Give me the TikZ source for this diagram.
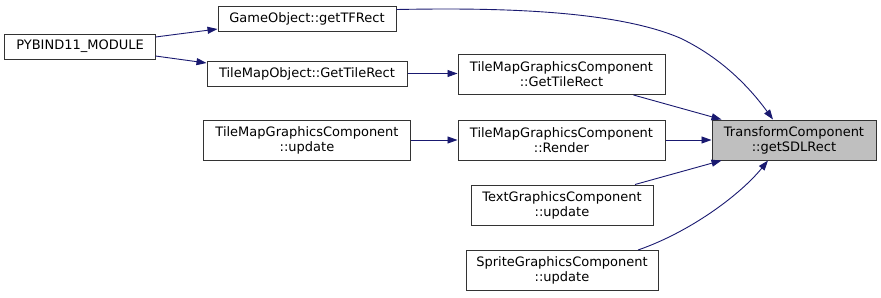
\documentclass[tikz,border=0pt]{standalone}
\usepackage{fontspec}
\setmainfont{DejaVu Sans}
\usetikzlibrary{arrows.meta}
\definecolor{edgeblue}{HTML}{191970}
\definecolor{hlfill}{HTML}{BFBFBF}
\definecolor{boxline}{HTML}{333333}
\tikzset{
  fn/.style={draw=boxline, line width=1bp, fill=white, rectangle, inner sep=0pt,
    align=center, minimum height=25bp,
    font=\fontsize{13bp}{15bp}\selectfont},
  fn2/.style={fn, minimum height=40bp},
  focus/.style={fn2, fill=hlfill},
  call/.style={draw=edgeblue, line width=0.9bp,
    -{Triangle[length=10bp,width=7bp,fill=edgeblue]}},
}
\begin{document}
\begin{tikzpicture}[x=1bp,y=-1bp]
\useasboundingbox (0,0) rectangle (881,297);

% functions
\node[fn, minimum width=150bp] (pyb) at (80,46.5) {PYBIND11\_MODULE};
\node[fn, minimum width=178bp] (go) at (307,18.5) {GameObject::getTFRect};
\node[fn, minimum width=200bp] (tmo) at (307,73.5) {TileMapObject::GetTileRect};
\node[fn2, minimum width=207bp] (tmgu) at (307,140) {TileMapGraphicsComponent\\::update};
\node[fn2, minimum width=207bp] (tmgg) at (561.5,74.5) {TileMapGraphicsComponent\\::GetTileRect};
\node[fn2, minimum width=207bp] (tmgr) at (561.5,140) {TileMapGraphicsComponent\\::Render};
\node[fn2, minimum width=182bp] (txt) at (562,205) {TextGraphicsComponent\\::update};
\node[fn2, minimum width=192bp] (spr) at (562,270.5) {SpriteGraphicsComponent\\::update};
\node[focus, minimum width=164bp] (tc) at (794,140) {TransformComponent\\::getSDLRect};

% calls (shifts are in canvas direction: positive yshift is upward)
\draw[call] ([yshift=9.5bp]pyb.east) -- ([yshift=-10.5bp]go.west);
\draw[call] ([yshift=-9.5bp]pyb.east) -- ([yshift=10.5bp]tmo.west);
\draw[call] (tmo.east) -- (tmo.east -| tmgg.west);
\draw[call] (tmgu.east) -- (tmgr.west);
\draw[call] (tmgr.east) -- (tc.west);
\draw[call] ([yshift=9bp]go.east) .. controls (480,8) and (610,8) .. (680,38)
  .. controls (722,58) and (750,88) .. ([xshift=-21bp]tc.north);
\draw[call] ([xshift=72bp]tmgg.south) -- ([xshift=10bp]tc.north west);
\draw[call] ([xshift=73bp]txt.north) -- ([xshift=10bp]tc.south west);
\draw[call] ([xshift=76bp]spr.north) .. controls (690,232) and (740,195) .. ([xshift=-26bp]tc.south);
\end{tikzpicture}
\end{document}
